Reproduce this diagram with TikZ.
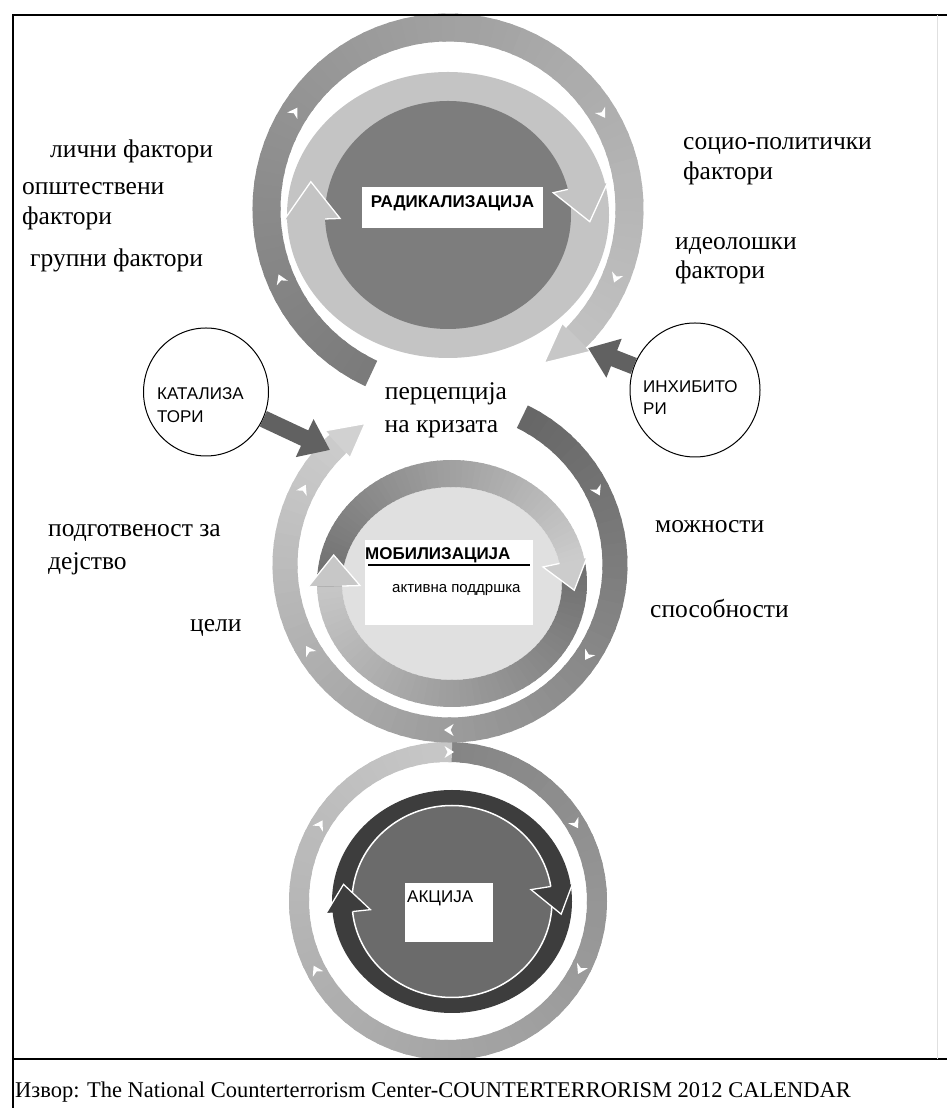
\documentclass[tikz,border=0pt]{standalone}
\usepackage{fontspec}
\setmainfont{Liberation Serif}
\setsansfont{Liberation Sans}
\usetikzlibrary{shapes.geometric,arrows.meta}

% current ring: centre, outer radii, inner radii
\newcommand{\setring}[6]{\def\rcx{#1}\def\rcy{#2}\def\rxo{#3}\def\ryo{#4}\def\rxi{#5}\def\ryi{#6}}
% piece of the current ring from angle #1 to #2
\newcommand{\bandpart}[3]{%
  \fill[#3] ({\rcx+\rxo*cos(#1)},{\rcy+\ryo*sin(#1)}) arc[start angle=#1, end angle=#2, x radius=\rxo, y radius=\ryo]
    -- ({\rcx+\rxi*cos(#2)},{\rcy+\ryi*sin(#2)}) arc[start angle=#2, end angle=#1, x radius=\rxi, y radius=\ryi] -- cycle;}
% ring from #1 to #2, black #3 to #4 per cent, in #5 pieces
\newcommand{\bandfade}[5]{%
  \pgfmathsetmacro{\kstep}{(#2-#1)/#5}%
  \pgfmathsetmacro{\pstep}{(#4-#3)/#5}%
  \foreach \k in {1,...,#5}{%
    \pgfmathsetmacro{\ka}{#1+\kstep*(\k-1)}%
    \pgfmathsetmacro{\kb}{#1+\kstep*(\k+0.3)}%
    \pgfmathsetmacro{\kp}{#3+\pstep*(\k-0.5)}%
    \bandpart{\ka}{\kb}{black!\kp}}}
% arrow head: base angle, tip angle, outer and inner overhang, fill
\newcommand{\bandhead}[5]{%
  \filldraw[fill=#5, draw=white, line width=1.3pt]
    ({\rcx+\rxo*cos(#1)},{\rcy+\ryo*sin(#1)})
    -- ({\rcx+(\rxo+#3)*cos(#1)},{\rcy+(\ryo+#3)*sin(#1)})
    -- ({\rcx+(\rxo+\rxi)/2*cos(#2)},{\rcy+(\ryo+\ryi)/2*sin(#2)})
    -- ({\rcx+(\rxi-#4)*cos(#1)},{\rcy+(\ryi-#4)*sin(#1)})
    -- ({\rcx+\rxi*cos(#1)},{\rcy+\ryi*sin(#1)});}
% small white mark on the current ring
\newcommand{\ringmark}[1]{%
  \pgfmathsetmacro{\rmid}{(\rxo+\rxi)/2}%
  \begin{scope}[shift={(\rcx,\rcy)}, rotate=#1]
    \fill[white] (\rmid,-6) -- ({\rmid+6},3.5) -- (\rmid,0.5) -- ({\rmid-6},3.5) -- cycle;
  \end{scope}}

\tikzset{
  lbl/.style={font=\fontsize{25.5}{30}\selectfont, anchor=base west, inner sep=0pt},
  boxtxt/.style={font=\sffamily\bfseries\fontsize{17}{20}\selectfont, inner sep=0pt},
  tagtxt/.style={font=\sffamily\fontsize{17}{20}\selectfont, inner sep=0pt, anchor=base west},
  smalltxt/.style={font=\sffamily\fontsize{15}{18}\selectfont, inner sep=0pt, anchor=base west},
  whitebox/.style={fill=white, inner sep=0pt},
  factor/.style={ellipse, draw, line width=1pt, inner sep=0pt},
  push/.style={line width=17pt, black!62, -{Triangle[length=28pt,width=40pt]}}
}

\begin{document}
\begin{tikzpicture}[x=1pt,y=1pt]
	\useasboundingbox (0,0) rectangle (947,1111);
	
	% outer rings
	\setring{448}{210}{159}{159}{139}{139}
	\bandfade{90}{-270}{48}{22}{72}
	\foreach \a in {90,31.5,-27,149.6,208} {\ringmark{\a}}
	
	\setring{450}{546}{177.5}{177.5}{152.5}{152.5}
	\bandfade{64}{-227}{60}{20}{72}
	\bandhead{-227}{-239}{6}{6}{black!18}
	\foreach \a in {153,27,-33,211.5,270} {\ringmark{\a}}
	
	\setring{448}{902}{195.5}{195.5}{167.5}{167.5}
	\bandfade{245}{-45}{52}{24}{72}
	\bandhead{-45}{-58}{6}{6}{black!22}
	\foreach \a in {148,32,203,-22} {\ringmark{\a}}
	
	% radicalisation
	\setring{448}{896}{161}{143}{123}{114}
	\fill[black!23] (448,896) ellipse [x radius=161, y radius=143];
	\fill[black!51] (448,896) ellipse [x radius=123, y radius=114];
	\bandhead{182}{165}{3}{15}{black!23}
	\bandhead{13}{-3}{3}{15}{black!23}
	\node[whitebox, minimum width=181, minimum height=41] (rad) at (452.5,903.5) {};
	\node[boxtxt, anchor=base] (radtxt) at ([yshift=-21pt]rad.north) {РАДИКАЛИЗАЦИЈА};
	
	% mobilisation
	\setring{452}{527.5}{135}{123.5}{110}{96.5}
	\fill[black!12] (452,527.5) ellipse [x radius=110, y radius=96.5];
	\bandfade{12}{-178.5}{57}{22}{60}
	\bandfade{181.5}{12}{57}{20}{60}
	\bandhead{12}{-3.5}{3}{17}{black!20}
	\bandhead{-178.5}{-195}{9}{18}{black!22}
	\node[whitebox, minimum width=168, minimum height=85] (mob) at (449,528.5) {};
	\node[boxtxt, anchor=base west] (mobtxt) at (365,551) {МОБИЛИЗАЦИЈА};
	\draw[line width=1.6pt] (368,546) -- (530,546);
	\node[smalltxt] (podtxt) at (392,518) {активна поддршка};
	
	% action
	\setring{452}{209.5}{120}{111.5}{100}{96}
	\fill[black!58] (452,209.5) ellipse [x radius=100, y radius=96];
	\bandpart{0}{360}{black!76}
	\draw[white, line width=1.5pt] (452,209.5) ellipse [x radius=100, y radius=96];
	\bandhead{186}{170.5}{7}{18}{black!76}
	\bandhead{9}{-7}{2}{20}{black!76}
	\node[whitebox, minimum width=88, minimum height=59] (akc) at (449,198.5) {};
	\node[tagtxt] (akctxt) at (407,208) {АКЦИЈА};
	
	% catalysts and inhibitors
	\node[factor, minimum width=125, minimum height=128] (kat) at (206,719) {};
	\node[tagtxt] (kattxt) at (157,711) {КАТАЛИЗА};
	\node[tagtxt] (kattxt2) at (157,688) {ТОРИ};
	\node[factor, minimum width=130, minimum height=134] (inh) at (695,721) {};
	\node[tagtxt] (inhtxt) at (643,718) {ИНХИБИТО};
	\node[tagtxt] (inhtxt2) at (643,696) {РИ};
	\coordinate (katend) at (330,661);
	\coordinate (inhend) at (588,763);
	\draw[push] (kat) -- (katend);
	\draw[push] (inh) -- (inhend);
	
	% factors
	\node[lbl] (lichni) at (50,953) {лични фактори};
	\node[lbl] (opst) at (22,916) {општествени};
	\node[lbl] (opst2) at (22,886) {фактори};
	\node[lbl] (grup) at (30,844) {групни фактори};
	\node[lbl] (socio) at (683,961) {социо-политички};
	\node[lbl] (socio2) at (683,931) {фактори};
	\node[lbl] (ideo) at (675,861) {идеолошки};
	\node[lbl] (ideo2) at (675,832) {фактори};
	\node[lbl, anchor=base] (perc) at (446,711) {перцепција};
	\node[lbl, anchor=base] (perc2) at (441.5,678) {на кризата};
	\node[lbl] (podg) at (48,574) {подготвеност за};
	\node[lbl] (podg2) at (48,541) {дејство};
	\node[lbl] (celi) at (190,479) {цели};
	\node[lbl] (mozn) at (655,578) {можности};
	\node[lbl] (spos) at (650,493) {способности};
	
	% frame and source
	\draw[line width=1.8pt] (13,3) -- (13,1096) -- (947,1096);
	\draw[line width=1.4pt] (13,52) -- (947,52);
	\draw[black!12] (937,52) -- (937,1096);
	\node[lbl, font=\fontsize{22.5}{26}\selectfont] (src) at (15,13) {Извор: The National Counterterrorism Center-COUNTERTERRORISM 2012 CALENDAR};
\end{tikzpicture}
\end{document}
